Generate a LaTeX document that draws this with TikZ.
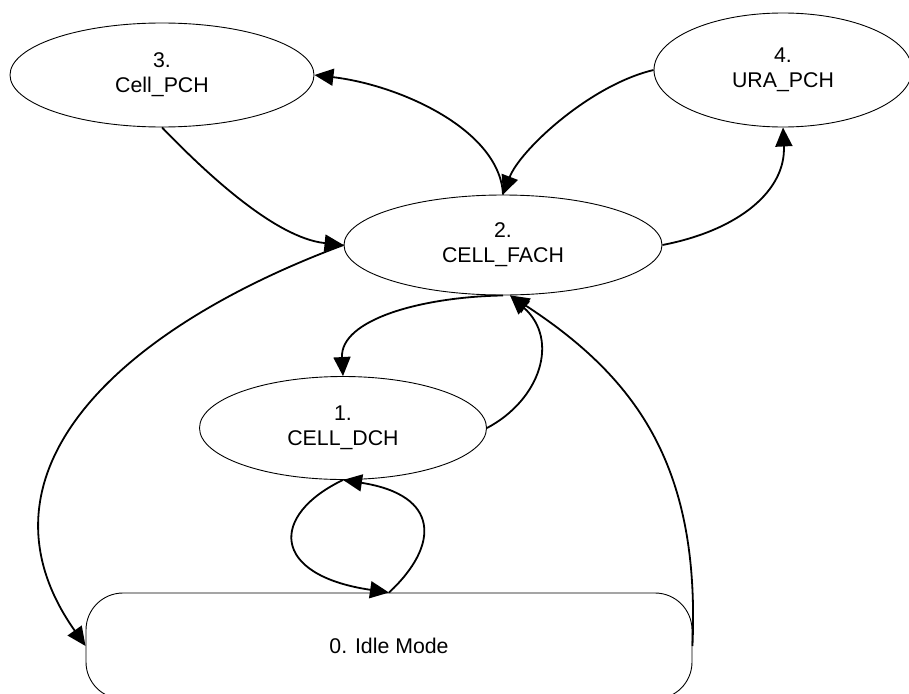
\documentclass[tikz,border=0pt]{standalone}
\usepackage{fontspec}
\setmainfont{Liberation Sans}
\usetikzlibrary{shapes.geometric,arrows.meta}
\begin{document}
\begin{tikzpicture}[x=1pt,y=-1pt,
  state/.style={draw, ellipse, line width=0.9pt, inner sep=0pt, align=center,
    font=\fontsize{21.3}{25}\selectfont},
  idlebox/.style={draw, rectangle, rounded corners=37pt, line width=0.9pt, inner sep=0pt,
    font=\fontsize{21.3}{25}\selectfont},
  conn/.style={line width=1.8pt, -{Triangle[length=19pt,width=17pt]}}]
\useasboundingbox (0,0) rectangle (909,693);

\node[state, minimum width=304pt, minimum height=104pt] (cpch) at (162,75) {3.\\Cell\_PCH};
\node[state, minimum width=258pt, minimum height=114pt] (ura) at (783,70) {4.\\URA\_PCH};
\node[state, minimum width=318pt, minimum height=100pt] (fach) at (503,245) {2.\\CELL\_FACH};
\node[state, minimum width=287pt, minimum height=103pt] (dch) at (343,428) {1.\\CELL\_DCH};
\node[idlebox, minimum width=606pt, minimum height=106pt] (idle) at (389,646) {0. Idle Mode};

\draw[conn] (fach.north) .. controls (500,130) and (400,85) .. (cpch.east);
\draw[conn] (ura.west) .. controls (590,85) and (520,150) .. (fach.north);
\draw[conn] (fach.east) .. controls (740,230) and (786,190) .. (ura.south);
\draw[conn] (cpch.south) .. controls (205,172) and (275,238) .. (fach.west);
\draw[conn] (fach.west) .. controls (115,330) and (-35,475) .. (idle.west);
\draw[conn] (fach.south) .. controls (420,297) and (340,320) .. (dch.north);
\draw[conn] (dch.east) .. controls (540,400) and (560,340) .. (fach.-82);
\draw[conn] (idle.east) .. controls (700,470) and (640,380) .. (fach.-82);
\draw[conn] (dch.south) .. controls (270,515) and (270,575) .. (idle.north);
\draw[conn] (idle.north) .. controls (440,545) and (440,495) .. (dch.south);
\end{tikzpicture}
\end{document}
